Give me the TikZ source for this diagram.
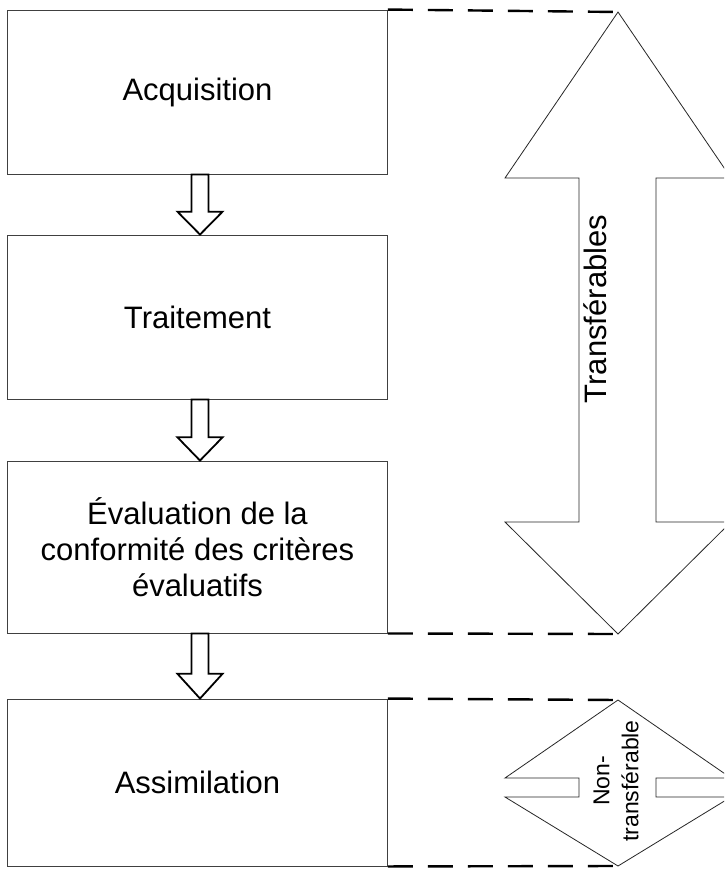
\documentclass[tikz,border=0pt]{standalone}
\usepackage{fontspec}
\setmainfont{Liberation Sans}
\usetikzlibrary{calc}
\begin{document}
\begin{tikzpicture}[x=1pt,y=-1pt,
  stage/.style={draw=black!75,line width=0.9pt,minimum width=380pt,minimum height=164pt,inner sep=0pt,align=center,font=\fontsize{31}{36}\selectfont},
  flowarrow/.style={draw=black,line width=1.8pt,fill=white,line join=miter},
  bigarrow/.style={draw=black!85,line width=0.8pt,fill=white,line join=miter},
  guide/.style={draw=black,line width=2.4pt,dash pattern=on 25pt off 15pt}]
\useasboundingbox (0,0) rectangle (724,875);
\clip (0,0) rectangle (724,875);
\node[stage] (b1) at (197.5,92) {Acquisition};
\node[stage] (b2) at (197.5,317) {Traitement};
\node[stage,minimum height=172pt] (b3) at (197.5,547) {Évaluation de la\\conformité des critères\\évaluatifs};
\node[stage,minimum height=167pt] (b4) at (197.5,782.5) {Assimilation};
% flow arrows
\foreach \a/\b in {b1/b2,b2/b3,b3/b4}{
  \draw[flowarrow] ($(\a.south)+(-6,0)$) -- ($(\a.south)+(11,0)$) -- ($(\a.south)!0.62!(\b.north)+(11,0)$) -- ($(\a.south)!0.62!(\b.north)+(25,0)$) -- ($(\b.north)+(2.5,0)$) -- ($(\a.south)!0.62!(\b.north)+(-20,0)$) -- ($(\a.south)!0.62!(\b.north)+(-6,0)$) -- cycle;
}
% big double arrow
\coordinate (t1) at (618,12);
\coordinate (t2) at (618,634);
\coordinate (t3) at (618,700);
\coordinate (t4) at (618,866);
\draw[bigarrow] (t1) -- (731,178) -- (656,178) -- (656,522) -- (731,522) -- (t2) -- (505,522) -- (579,522) -- (579,178) -- (505,178) -- cycle;
\node[rotate=90,font=\fontsize{31}{36}\selectfont] (lt) at (595,309) {Transférables};
% small double arrow
\draw[bigarrow] (t3) -- (505,778) -- (579,778) -- (579,797) -- (505,797) -- (t4) -- (731,797) -- (656,797) -- (656,778) -- (731,778) -- cycle;
\node[rotate=90,align=center,font=\fontsize{23}{29}\selectfont] (ln) at (616,781) {Non-\\transférable};
% dashed guides
\draw[guide] (b1.north east) -- (t1);
\draw[guide] (b3.south east) -- (t2);
\draw[guide] (b4.north east) -- (t3);
\draw[guide] (b4.south east) -- (t4);
\end{tikzpicture}
\end{document}
